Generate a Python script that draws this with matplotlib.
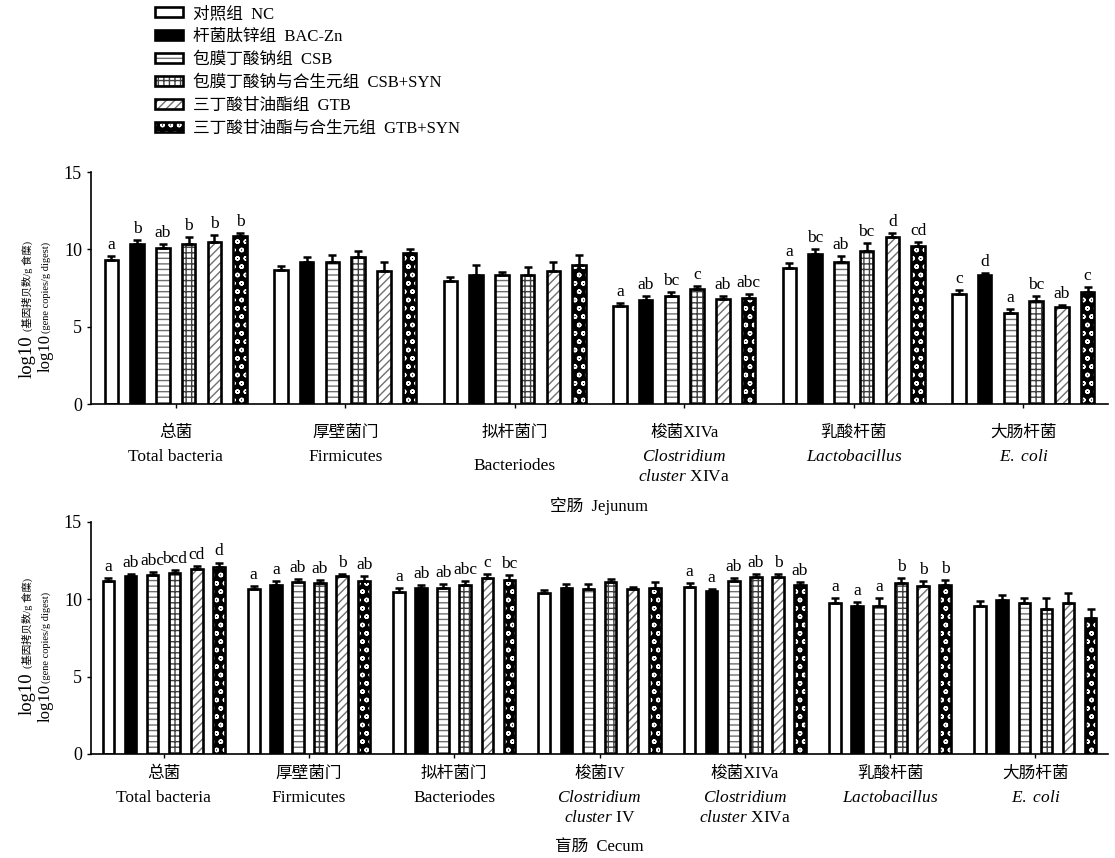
import numpy as np
import matplotlib.pyplot as plt
from matplotlib.patches import Patch

plt.rcParams["font.family"] = ["Liberation Serif", "Noto Sans CJK SC"]
plt.rcParams["mathtext.fontset"] = "custom"
plt.rcParams["mathtext.rm"] = "Liberation Serif"
plt.rcParams["mathtext.it"] = "Liberation Serif:italic"
plt.rcParams["hatch.linewidth"] = 1.0

W, H = 1115, 858

# treatment groups
GROUPS = ["对照组  NC", "杆菌肽锌组  BAC-Zn", "包膜丁酸钠组  CSB",
          "包膜丁酸钠与合生元组  CSB+SYN", "三丁酸甘油酯组  GTB",
          "三丁酸甘油酯与合生元组  GTB+SYN"]
FACE = ["white", "black", "white", "white", "white", "black"]
HATCH = [None, None, "---", "+++", "////", "oo"]
HATCH_COLOR = ["black", "black", "#707070", "#404040", "#707070", "white"]

# jejunum
jej_cn = ["总菌", "厚壁菌门", "拟杆菌门", "梭菌XIVa", "乳酸杆菌", "大肠杆菌"]
jej_en = ["Total bacteria", "Firmicutes", "Bacteriodes",
          "$\\mathit{Clostridium}$\n$\\mathit{cluster}$ XIVa",
          "$\\mathit{Lactobacillus}$", "$\\mathit{E.\\ coli}$"]
jej_mean = [
    [9.31, 10.32, 10.06, 10.34, 10.50, 10.86],
    [8.66, 9.18, 9.18, 9.48, 8.60, 9.78],
    [7.97, 8.34, 8.34, 8.34, 8.60, 8.99],
    [6.36, 6.72, 6.98, 7.41, 6.79, 6.83],
    [8.81, 9.70, 9.20, 9.89, 10.77, 10.23],
    [7.11, 8.34, 5.86, 6.66, 6.25, 7.22],
]
jej_sd = [
    [0.26, 0.28, 0.26, 0.43, 0.42, 0.21],
    [0.26, 0.30, 0.45, 0.43, 0.56, 0.22],
    [0.26, 0.65, 0.21, 0.50, 0.60, 0.64],
    [0.19, 0.26, 0.28, 0.22, 0.21, 0.26],
    [0.28, 0.32, 0.39, 0.50, 0.30, 0.27],
    [0.26, 0.15, 0.28, 0.32, 0.15, 0.36],
]
jej_sig = [
    ["a", "b", "ab", "b", "b", "b"],
    [""] * 6,
    [""] * 6,
    ["a", "ab", "bc", "c", "ab", "abc"],
    ["a", "bc", "ab", "bc", "d", "cd"],
    ["c", "d", "a", "bc", "ab", "c"],
]

# cecum
cec_cn = ["总菌", "厚壁菌门", "拟杆菌门", "梭菌IV", "梭菌XIVa", "乳酸杆菌", "大肠杆菌"]
cec_en = ["Total bacteria", "Firmicutes", "Bacteriodes",
          "$\\mathit{Clostridium}$\n$\\mathit{cluster}$ IV",
          "$\\mathit{Clostridium}$\n$\\mathit{cluster}$ XIVa",
          "$\\mathit{Lactobacillus}$", "$\\mathit{E.\\ coli}$"]
cec_mean = [
    [11.20, 11.50, 11.60, 11.70, 11.98, 12.10],
    [10.70, 10.95, 11.15, 11.05, 11.50, 11.20],
    [10.48, 10.75, 10.75, 10.95, 11.35, 11.25],
    [10.42, 10.75, 10.68, 11.15, 10.65, 10.75],
    [10.78, 10.55, 11.18, 11.45, 11.45, 10.92],
    [9.78, 9.55, 9.55, 11.08, 10.85, 10.95],
    [9.55, 9.98, 9.78, 9.35, 9.78, 8.82],
]
cec_sd = [
    [0.15, 0.11, 0.17, 0.17, 0.17, 0.28],
    [0.15, 0.26, 0.15, 0.21, 0.13, 0.28],
    [0.26, 0.17, 0.25, 0.22, 0.30, 0.32],
    [0.17, 0.25, 0.32, 0.17, 0.15, 0.36],
    [0.28, 0.12, 0.21, 0.21, 0.21, 0.21],
    [0.32, 0.28, 0.54, 0.32, 0.33, 0.32],
    [0.32, 0.33, 0.32, 0.75, 0.60, 0.54],
]
cec_sig = [
    ["a", "ab", "abc", "bcd", "cd", "d"],
    ["a", "a", "ab", "ab", "b", "ab"],
    ["a", "ab", "ab", "abc", "c", "bc"],
    [""] * 6,
    ["a", "a", "ab", "ab", "b", "ab"],
    ["a", "a", "a", "b", "b", "b"],
    [""] * 6,
]

SLOT = 0.152
BAR_W = 0.08


def draw_panel(ax, mean, sd, sig, cn, en, title, dy):
    mean = np.asarray(mean)
    sd = np.asarray(sd)
    n = len(cn)
    xc = np.arange(n)
    for j in range(len(GROUPS)):
        x = xc + (j - 2.5) * SLOT
        ax.bar(x, mean[:, j], width=BAR_W, color=FACE[j], hatch=HATCH[j],
               edgecolor=HATCH_COLOR[j], linewidth=0, zorder=2)
        ax.bar(x, mean[:, j], width=BAR_W, color="none",
               edgecolor="black", linewidth=1.9, zorder=3)
        ax.errorbar(x, mean[:, j], yerr=[np.zeros(n), sd[:, j]], fmt="none",
                    ecolor="black", elinewidth=1.8, capsize=3, capthick=1.8,
                    zorder=4)
        for k in range(n):
            if sig[k][j]:
                ax.text(x[k], mean[k, j] + sd[k, j] + 0.2, sig[k][j],
                        ha="center", va="bottom", fontsize=12.5)

    ax.set_xlim(-0.5, n - 0.5)
    ax.set_ylim(0, 15)
    ax.set_yticks([0, 5, 10, 15])
    ax.set_xticks(xc)
    ax.set_xticklabels([])
    ax.tick_params(axis="y", labelsize=13, length=3, width=1)
    ax.tick_params(axis="x", length=3, width=1)
    for s in ["top", "right"]:
        ax.spines[s].set_visible(False)
    for s in ["left", "bottom"]:
        ax.spines[s].set_linewidth(1.2)

    # category labels under the axis
    for k in range(n):
        ax.annotate(cn[k], xy=(k, 0), xycoords=("data", "axes fraction"),
                    xytext=(0, -dy[0]), textcoords="offset pixels",
                    ha="center", va="center", fontsize=12)
        off = dy[1] + (9 if en[k] == "Bacteriodes" and n == 6 else 0)
        ax.annotate(en[k], xy=(k, 0), xycoords=("data", "axes fraction"),
                    xytext=(0, -off), textcoords="offset pixels",
                    ha="center", va="top", fontsize=12.5, linespacing=1.35)
    ax.annotate(title, xy=(0.5, 0), xycoords="axes fraction",
                xytext=(0, -dy[2]), textcoords="offset pixels",
                ha="center", va="center", fontsize=12)


def ylabel(fig, x1, y1, x2, y2):
    # two stacked rotated labels: large "log10" plus small unit text
    fig.text(x1 / W, 1 - y1 / H, "log10", rotation=90, ha="center",
             va="bottom", fontsize=13.5)
    fig.text(x1 / W, 1 - (y1 - 47) / H, "(基因拷贝数/g 食糜)", rotation=90,
             ha="center", va="bottom", fontsize=7.5)
    fig.text(x2 / W, 1 - y2 / H, "log10", rotation=90, ha="center",
             va="bottom", fontsize=12)
    fig.text(x2 / W, 1 - (y2 - 39) / H, "(gene copies/g digest)", rotation=90,
             ha="center", va="bottom", fontsize=7.5)


fig = plt.figure(figsize=(W / 100, H / 100), dpi=100)
ax1 = fig.add_axes([91 / W, 1 - 404 / H, 1017 / W, 232 / H])
ax2 = fig.add_axes([91 / W, 1 - 754 / H, 1017 / W, 232 / H])

draw_panel(ax1, jej_mean, jej_sd, jej_sig, jej_cn, jej_en,
           "空肠  Jejunum", (29, 45, 102))
draw_panel(ax2, cec_mean, cec_sd, cec_sig, cec_cn, cec_en,
           "盲肠  Cecum", (20, 36, 93))

ylabel(fig, 27, 378, 46, 372)
ylabel(fig, 27, 715, 46, 722)

handles = []
for j in range(len(GROUPS)):
    handles.append((Patch(facecolor=FACE[j], hatch=HATCH[j],
                          edgecolor=HATCH_COLOR[j], linewidth=0),
                    Patch(facecolor="none", edgecolor="black", linewidth=1.9)))
fig.legend(handles, GROUPS, loc="upper left",
           bbox_to_anchor=(155 / W, 1 - 6 / H), frameon=False, fontsize=12,
           handlelength=1.7, handleheight=0.55, handletextpad=0.6,
           labelspacing=0.42, borderpad=0, borderaxespad=0)

fig.savefig("out.png", dpi=100)
